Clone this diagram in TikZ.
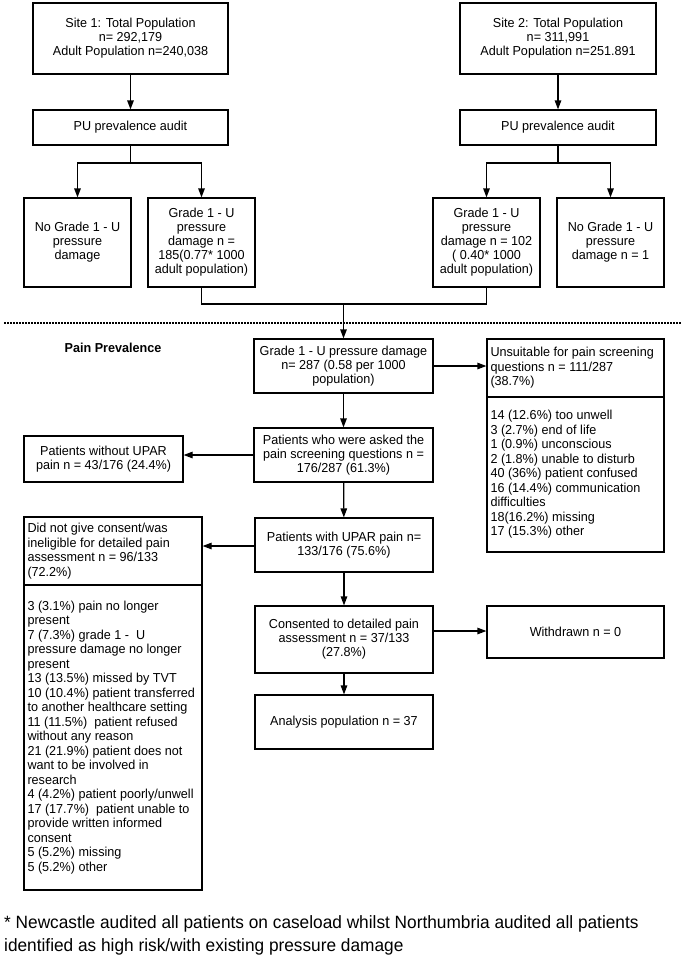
\documentclass[tikz,border=0pt]{standalone}
\usepackage{fontspec}
\setmainfont{Liberation Sans}[FakeStretch=0.97]
\usepackage{tikz}
\usetikzlibrary{shapes}
\usetikzlibrary{arrows.meta}
\usetikzlibrary{positioning}
\tikzset{
  flow_node/.style = {rectangle, draw=black, line width=1.2pt, inner sep=2pt,
    align=center, font=\fontsize{13}{14}\selectfont},% boite centree
  list_node/.style = {flow_node, align=flush left, inner xsep=3.5pt, text width=170pt,
    font=\fontsize{13}{14.5}\selectfont},% boite avec liste
  flow_line/.style = {line width=1.2pt},% trait simple
  flow_arrow/.style = {flow_line, -{Triangle[length=9pt,width=6.5pt]}}% fleche
}

\begin{document}
\begin{tikzpicture}[x=1pt, y=-1pt]
  \useasboundingbox (0,0) rectangle (685,961);
  % sites
  \node [flow_node, minimum width=195pt, minimum height=71pt] (site_a) at (130.5,38.5)
    {Site 1: Total Population\\ n= 292,179\\ Adult Population n=240,038};
  \node [flow_node, minimum width=196pt, minimum height=71pt] (site_b) at (558,38.5)
    {Site 2: Total Population\\ n= 311,991\\ Adult Population n=251.891};
  \node [flow_node, minimum width=195pt, minimum height=35pt] (audit_a) at (130.5,127.5)
    {PU prevalence audit};
  \node [flow_node, minimum width=196pt, minimum height=35pt] (audit_b) at (558,127.5)
    {PU prevalence audit};
  \node [flow_node, minimum width=107pt, minimum height=89pt] (nograde_a) at (77.5,242.5)
    {No Grade 1 - U\\ pressure\\ damage};
  \node [flow_node, minimum width=107pt, minimum height=89pt] (grade_a) at (201.5,242.5)
    {Grade 1 - U\\ pressure\\ damage n =\\ 185(0.77* 1000\\ adult population)};
  \node [flow_node, minimum width=107pt, minimum height=89pt] (grade_b) at (486.5,242.5)
    {Grade 1 - U\\ pressure\\ damage n = 102\\ ( 0.40* 1000\\ adult population)};
  \node [flow_node, minimum width=107pt, minimum height=89pt] (nograde_b) at (610.5,242.5)
    {No Grade 1 - U\\ pressure\\ damage n = 1};

  % pain prevalence
  \node [font=\bfseries\fontsize{13}{14}\selectfont] (pain_label) at (113,348) {Pain Prevalence};
  \node [flow_node, minimum width=179pt, minimum height=54pt] (total) at (343.5,366)
    {Grade 1 - U pressure damage\\ n= 287 (0.58 per 1000\\ population)};
  \node [list_node, minimum height=58pt] (unsuit_head) at (575.5,368)
    {Unsuitable for pain screening\\ questions n = 111/287\\ (38.7\%)};
  \node [list_node, minimum height=155pt, below=-1.2pt of unsuit_head] (unsuit_list)
    {14 (12.6\%) too unwell\\ 3 (2.7\%) end of life\\ 1 (0.9\%) unconscious\\
     2 (1.8\%) unable to disturb\\ 40 (36\%) patient confused\\
     16 (14.4\%) communication\\ difficulties\\ 18(16.2\%) missing\\ 17 (15.3\%) other};
  \node [flow_node, minimum width=179pt, minimum height=54pt] (asked) at (343.5,455)
    {Patients who were asked the\\ pain screening questions n =\\ 176/287 (61.3\%)};
  \node [flow_node, minimum width=159pt, minimum height=46pt] (no_upar) at (103.5,459)
    {Patients without UPAR\\ pain n = 43/176 (24.4\%)};
  \node [flow_node, minimum width=178pt, minimum height=54pt] (upar) at (344,545)
    {Patients with UPAR pain n=\\ 133/176 (75.6\%)};
  \node [list_node, text width=171pt, minimum height=68pt] (refuse_head) at (113,551)
    {Did not give consent/was\\ ineligible for detailed pain\\ assessment n = 96/133\\ (72.2\%)};
  \node [list_node, text width=171pt, minimum height=305pt, below=-1.2pt of refuse_head] (refuse_list)
    {3 (3.1\%) pain no longer\\ present\\ 7 (7.3\%) grade 1 -\ \ U\\ pressure damage no longer\\ present\\
     13 (13.5\%) missed by TVT\\ 10 (10.4\%) patient transferred\\ to another healthcare setting\\
     11 (11.5\%)\ \ patient refused\\ without any reason\\ 21 (21.9\%) patient does not\\
     want to be involved in\\ research\\ 4 (4.2\%) patient poorly/unwell\\
     17 (17.7\%)\ \ patient unable to\\ provide written informed\\ consent\\
     5 (5.2\%) missing\\ 5 (5.2\%) other};
  \node [flow_node, minimum width=178pt, minimum height=67pt] (consent) at (344,639.5)
    {Consented to detailed pain\\ assessment n = 37/133\\ (27.8\%)};
  \node [flow_node, minimum width=177pt, minimum height=52pt] (withdrawn) at (575.5,632)
    {Withdrawn n = 0};
  \node [flow_node, minimum width=178pt, minimum height=54pt] (analysis) at (344,722)
    {Analysis population n = 37};

  \node [anchor=north west, align=left, inner sep=0pt, font=\fontsize{17.8}{23}\selectfont] (footnote) at (4,915)
    {* Newcastle audited all patients on caseload whilst Northumbria audited all patients\\
     identified as high risk/with existing pressure damage};

  % connectors
  \coordinate (split_a) at (130.5,163);
  \coordinate (split_b) at (558,163);
  \coordinate (merge) at (343.5,304);
  \draw [flow_arrow] (site_a) -- (audit_a);
  \draw [flow_arrow] (site_b) -- (audit_b);
  \draw [flow_line] (audit_a) -- (split_a);
  \draw [flow_arrow] (split_a) -| (nograde_a);
  \draw [flow_arrow] (split_a) -| (grade_a);
  \draw [flow_line] (audit_b) -- (split_b);
  \draw [flow_arrow] (split_b) -| (grade_b);
  \draw [flow_arrow] (split_b) -| (nograde_b);
  \draw [flow_line] (grade_a) |- (merge) -| (grade_b);
  \draw [flow_arrow] (merge) -- (total);
  \draw [flow_line, dash pattern=on 2pt off 1pt] (4,323) -- (681,323);
  \draw [flow_arrow] (total.east) -- (unsuit_head.west |- total.east);
  \draw [flow_arrow] (total) -- (asked);
  \draw [flow_arrow] (asked) -- (no_upar.east |- asked);
  \draw [flow_arrow] (asked) -- (upar);
  \draw [flow_arrow] (upar.west |- 0,546) -- (refuse_head.east |- 0,546);
  \draw [flow_arrow] (upar) -- (consent);
  \draw [flow_arrow] (consent.east |- 0,631) -- (withdrawn.west |- 0,631);
  \draw [flow_arrow] (consent) -- (analysis);
\end{tikzpicture}
\end{document}
